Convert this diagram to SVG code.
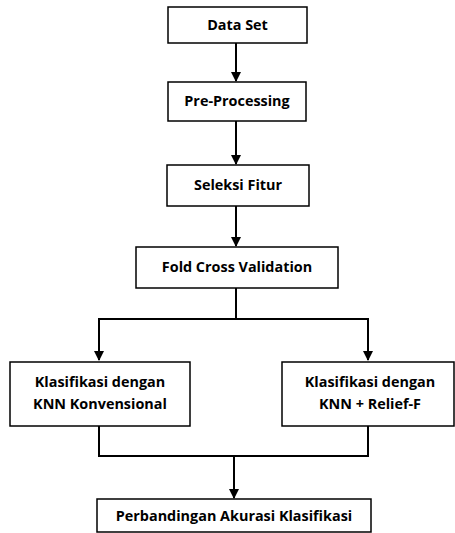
<svg xmlns="http://www.w3.org/2000/svg" width="455" height="533" viewBox="0 0 455 533">
<style>
.box{fill:#fff;stroke:#000;stroke-width:1.5}
.t{font-family:"Open Sans","Liberation Sans",sans-serif;font-weight:bold;font-size:14.4px;fill:#000;text-anchor:middle}
.c{fill:none;stroke:#000;stroke-width:2}
</style>
<defs>
<marker id="ah" markerWidth="10" markerHeight="10" refX="9" refY="5" orient="auto" markerUnits="userSpaceOnUse">
<path d="M0,0 L10,5 L0,10 Z" fill="#000"/>
</marker>
</defs>
<rect width="455" height="533" fill="#fff"/>
<g id="connectors">
<line class="c" x1="236" y1="43" x2="236" y2="81" marker-end="url(#ah)"/>
<line class="c" x1="236" y1="121" x2="236" y2="164" marker-end="url(#ah)"/>
<line class="c" x1="236" y1="206" x2="236" y2="246" marker-end="url(#ah)"/>
<polyline class="c" points="236,288 236,319"/>
<polyline class="c" points="236,319 99,319 99,360" marker-end="url(#ah)"/>
<polyline class="c" points="236,319 368,319 368,360" marker-end="url(#ah)"/>
<polyline class="c" points="99,426 99,456 368,456 368,426"/>
<line class="c" x1="234" y1="456" x2="234" y2="498" marker-end="url(#ah)"/>
</g>
<g id="n1"><rect class="box" x="168" y="7" width="139" height="36"/><text class="t" x="237.5" y="30">Data Set</text></g>
<g id="n2"><rect class="box" x="168" y="82" width="138" height="39"/><text class="t" x="237" y="106">Pre-Processing</text></g>
<g id="n3"><rect class="box" x="167" y="165" width="142" height="41"/><text class="t" x="238" y="190">Seleksi Fitur</text></g>
<g id="n4"><rect class="box" x="136" y="247" width="202" height="41"/><text class="t" x="237" y="272">Fold Cross Validation</text></g>
<g id="n5"><rect class="box" x="10" y="362" width="180" height="64"/><text class="t" x="100" y="387">Klasifikasi dengan</text><text class="t" x="100" y="409">KNN Konvensional</text></g>
<g id="n6"><rect class="box" x="282" y="362" width="172" height="64"/><text class="t" x="370" y="387">Klasifikasi dengan</text><text class="t" x="370" y="409">KNN + Relief-F</text></g>
<g id="n7"><rect class="box" x="97" y="499" width="274" height="33"/><text class="t" x="234" y="521">Perbandingan Akurasi Klasifikasi</text></g>
</svg>
